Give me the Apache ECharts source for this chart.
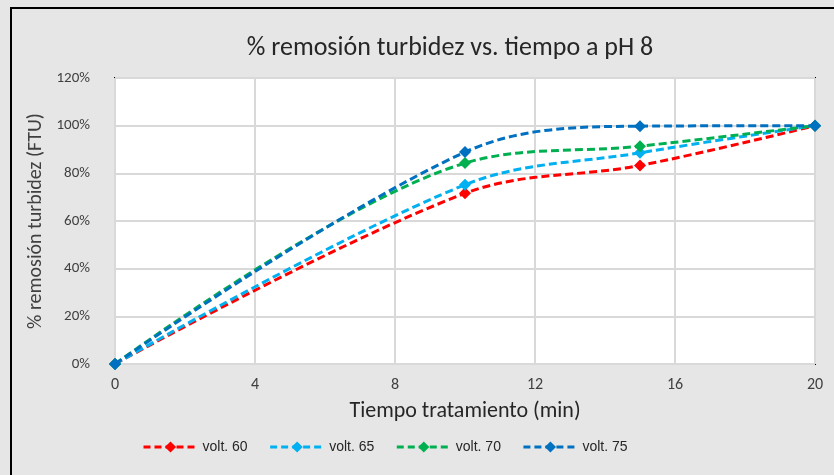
<!DOCTYPE html>
<html>
<head>
<meta charset="utf-8">
<script src="https://cdn.jsdelivr.net/npm/echarts@6/dist/echarts.min.js"></script>
<style>
  html, body { margin: 0; padding: 0; background: #e6e6e6; }
  #chart { width: 834px; height: 475px; }
</style>
</head>
<body>
<div id="chart"></div>
<script>
// Treatment time (min) and % turbidity removal per voltage
const tiempo = [0, 10, 15, 20];
const volt60 = [0, 71.6, 83.3, 100];
const volt65 = [0, 75.2, 88.6, 100];
const volt70 = [0, 84.3, 91.4, 100];
const volt75 = [0, 88.9, 99.8, 100];

const seriesNames = ['volt. 60', 'volt. 65', 'volt. 70', 'volt. 75'];
const seriesColors = ['#ff0000', '#00b0f0', '#00b050', '#0070c0'];
const seriesValues = [volt60, volt65, volt70, volt75];

const font = 'Carlito, "Open Sans", "Liberation Sans", sans-serif';

const chart = echarts.init(document.getElementById('chart'), null, { renderer: 'canvas' });

const series = seriesValues.map((vals, i) => ({
  name: seriesNames[i],
  type: 'line',
  smooth: 0.35,
  data: tiempo.map((t, j) => [t, vals[j]]),
  symbol: 'diamond',
  symbolSize: 12,
  color: seriesColors[i],
  lineStyle: { width: 3, type: [8, 4], color: seriesColors[i] },
  itemStyle: { color: seriesColors[i] },
  z: 2 + i
}));

chart.setOption({
  backgroundColor: '#e6e6e6',
  animation: false,
  title: {
    text: '% remosión turbidez vs. tiempo a pH 8',
    left: 445,
    top: 30,
    textAlign: 'center',
    textStyle: { fontFamily: font, fontSize: 26, fontWeight: 'normal', color: '#262626' }
  },
  legend: {
    data: seriesNames,
    top: 435,
    left: 137,
    itemWidth: 54,
    itemHeight: 14,
    itemGap: 21,
    lineStyle: { width: 3, type: [7, 4] },
    textStyle: { fontFamily: '"Liberation Sans", Arial, sans-serif', fontSize: 14, color: '#262626' }
  },
  grid: {
    left: 115, top: 78, width: 700, height: 286,
    show: true,
    backgroundColor: '#ffffff',
    borderColor: '#000000',
    borderWidth: 2
  },
  xAxis: {
    type: 'value',
    min: 0, max: 20, interval: 4,
    name: 'Tiempo tratamiento (min)',
    nameLocation: 'middle',
    nameGap: 36,
    nameTextStyle: { fontFamily: font, fontSize: 22, color: '#262626' },
    axisLine: { show: false },
    axisTick: { show: false },
    axisLabel: { margin: 13, fontFamily: font, fontSize: 16, color: '#404040' },
    splitLine: { show: true, lineStyle: { color: '#d9d9d9', width: 2 } }
  },
  yAxis: {
    type: 'value',
    min: 0, max: 120, interval: 20,
    name: '% remosión turbidez (FTU)',
    nameLocation: 'middle',
    nameGap: 64,
    nameTextStyle: { fontFamily: font, fontSize: 20, color: '#404040' },
    axisLine: { show: false },
    axisTick: { show: false },
    axisLabel: { margin: 25, fontFamily: font, fontSize: 15, color: '#404040', formatter: v => v + '%' },
    splitLine: { show: true, lineStyle: { color: '#d9d9d9', width: 2 } }
  },
  graphic: [{
    type: 'rect',
    shape: { x: 11, y: 8, width: 900, height: 600 },
    style: { fill: 'none', stroke: '#000000', lineWidth: 2 },
    silent: true,
    z: 100
  }],
  series: series
});
</script>
</body>
</html>
